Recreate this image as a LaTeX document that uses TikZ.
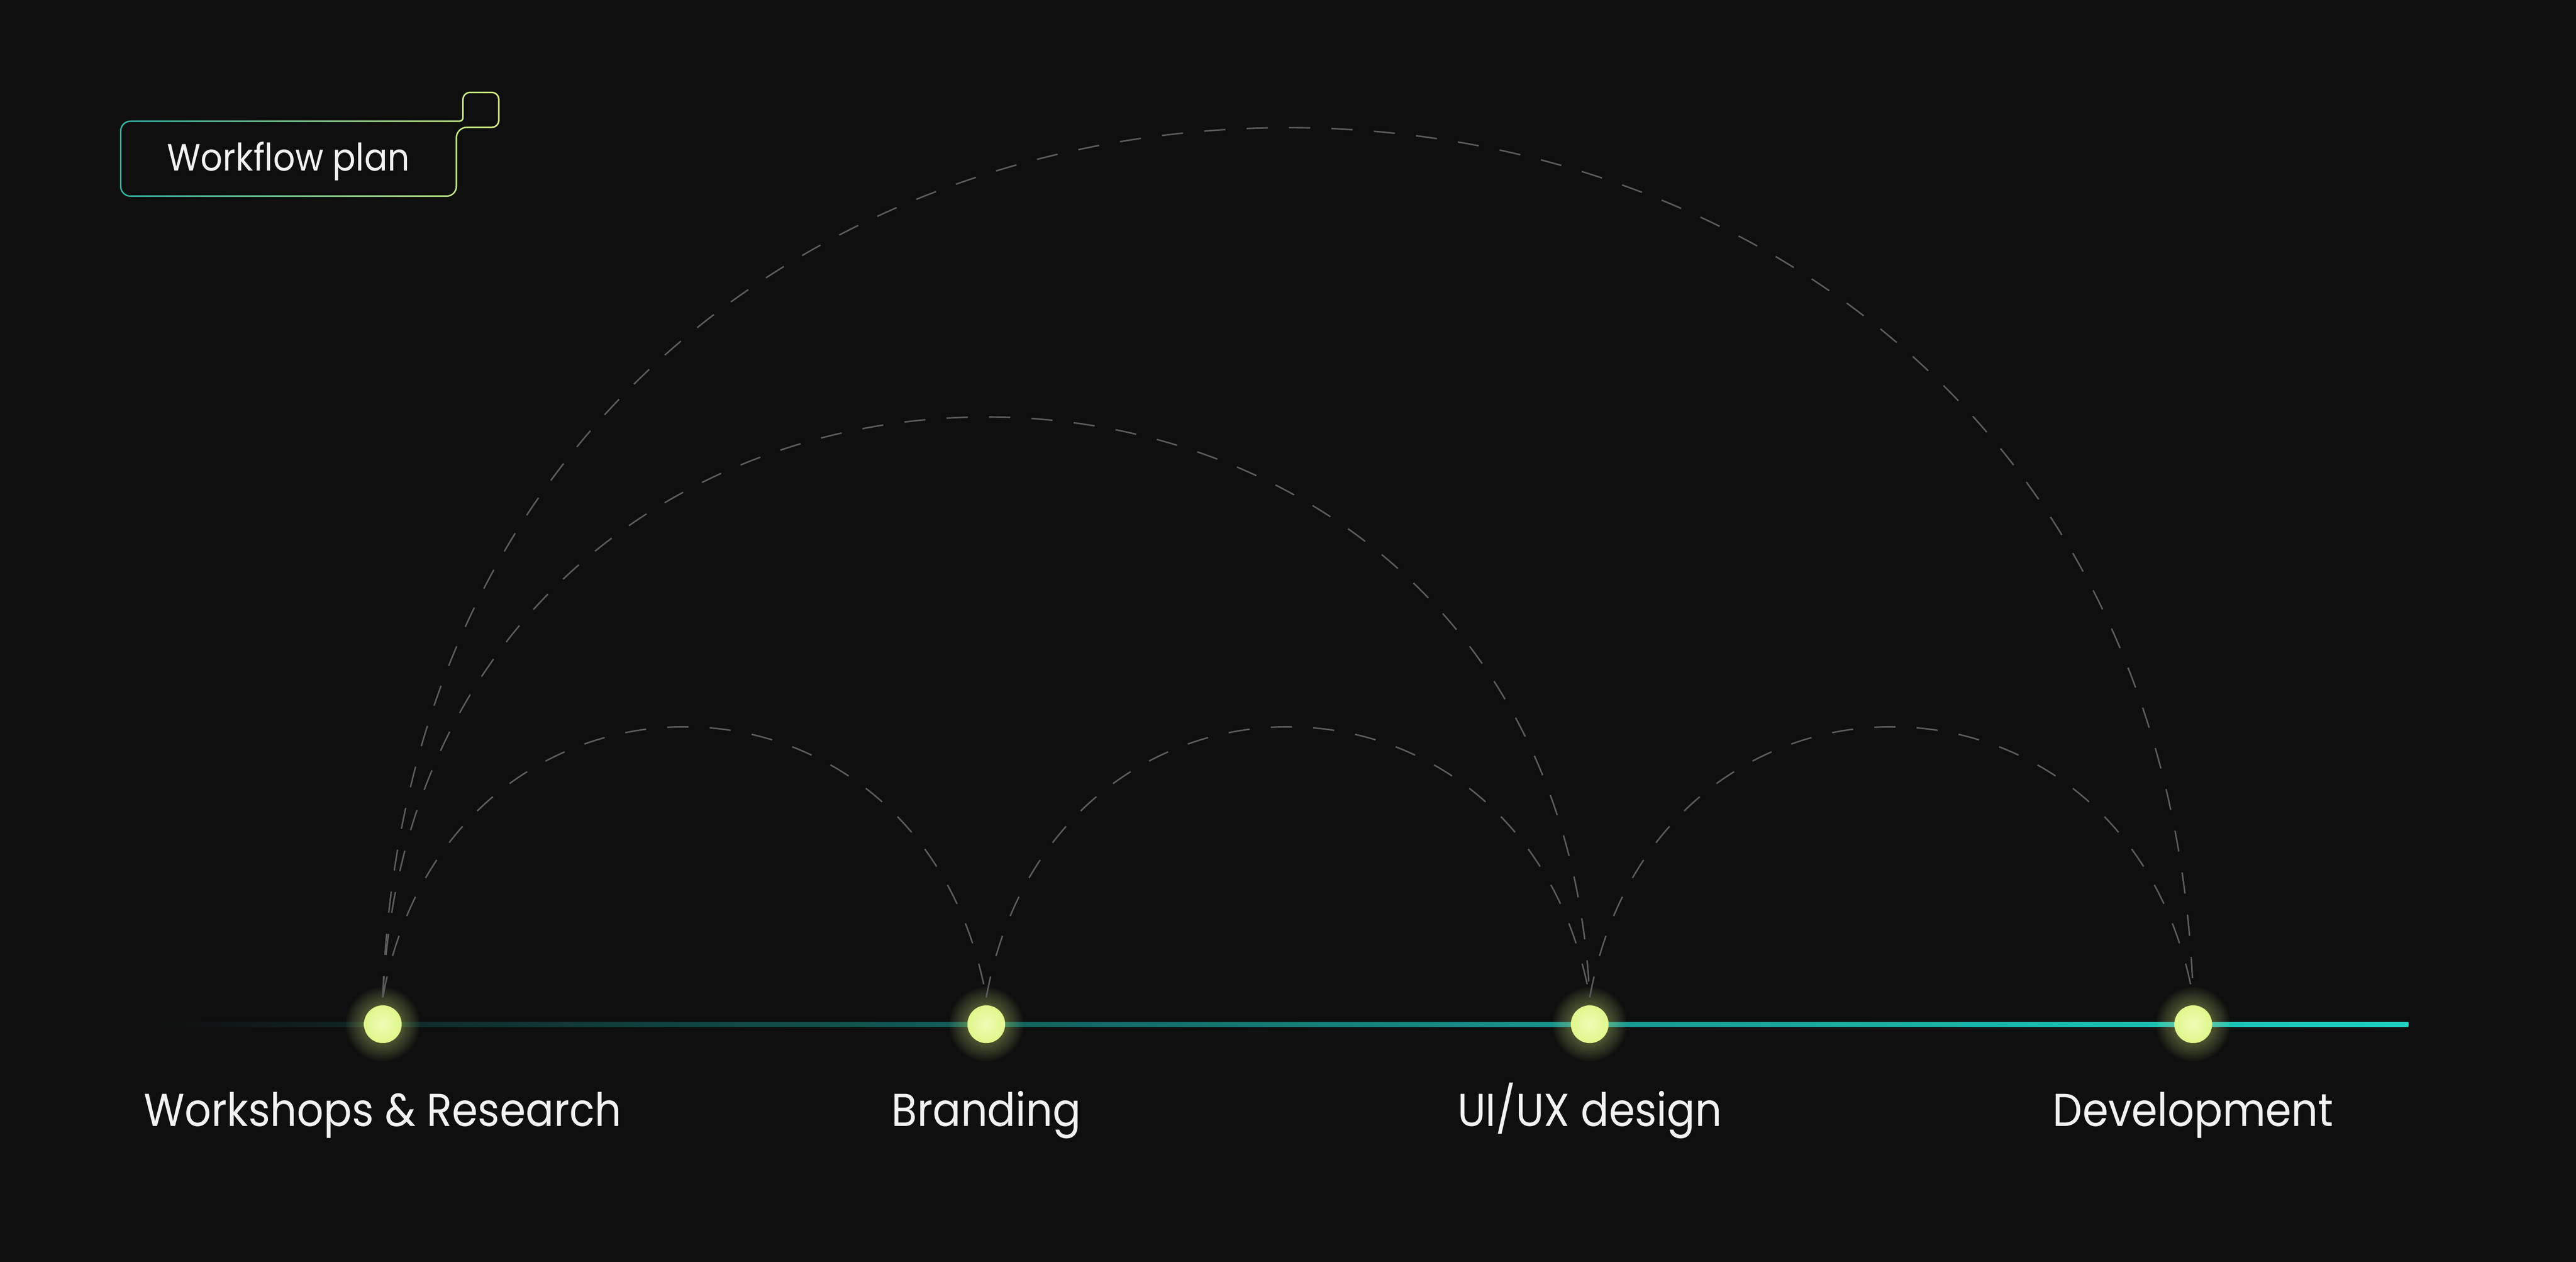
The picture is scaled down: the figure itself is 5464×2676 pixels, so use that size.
\documentclass[tikz,border=0pt]{standalone}
\usepackage{fontspec}
\usepackage{graphicx}
\usetikzlibrary{calc}
\setmainfont{Poppins}
\definecolor{bgc}{HTML}{0F0F0F}
\definecolor{dashc}{HTML}{5C5C5C}
\definecolor{dotc}{HTML}{DFF78A}
\definecolor{dotin}{HTML}{EEFCB8}
\definecolor{boxL}{HTML}{2BB8AA}
\definecolor{boxR}{HTML}{D9F47F}
\definecolor{txtc}{HTML}{F2F2F2}
\definecolor{tla}{HTML}{0F2826}
\definecolor{tlb}{HTML}{115A55}
\definecolor{tlc}{HTML}{179C94}
\definecolor{tld}{HTML}{21D3C5}
\pgfdeclarehorizontalshading{tline}{100bp}{color(0bp)=(bgc); color(25bp)=(bgc); color(30bp)=(tla); color(42bp)=(tlb); color(58bp)=(tlc); color(75bp)=(tld); color(100bp)=(tld)}
\newcommand\lblf{\fontsize{27.8pt}{32pt}\selectfont}
\newcommand\boxf{\fontsize{22.9pt}{26pt}\selectfont}
\newlength\mymeasw
% outline of the title box; #1 = inward offset
\newcommand\wfpath[1]{({256+(#1)},278) arc[start angle=180,end angle=270,radius={21-(#1)}]
 -- (975,{257+(#1)}) arc[start angle=90,end angle=0,radius={7+(#1)}]
 -- ({982+(#1)},211) arc[start angle=180,end angle=270,radius={15-(#1)}]
 -- (1043,{196+(#1)}) arc[start angle=270,end angle=360,radius={15-(#1)}]
 -- ({1058-(#1)},255) arc[start angle=0,end angle=90,radius={15-(#1)}]
 -- (990,{270-(#1)}) arc[start angle=270,end angle=180,radius={22+(#1)}]
 -- ({968-(#1)},395) arc[start angle=0,end angle=90,radius={21-(#1)}]
 -- (277,{416-(#1)}) arc[start angle=90,end angle=180,radius={21-(#1)}]
 -- cycle}
\tikzset{
 dotnode/.style={circle,minimum size=0.8cm,inner sep=0pt,outer sep=0.17cm,shade,inner color=dotin,outer color=dotc},
 glow/.style={fill=dotc,opacity=0.02},
 arcl/.style={draw=dashc,line width=0.9pt,dash pattern=on 12.8pt off 12.8pt},
 lbl/.style={text=txtc,inner sep=0pt,anchor=base},
}
\begin{document}
\settowidth\mymeasw{\lblf Workshops \& Research}
\pgfmathsetmacro\lsx{10.12cm/\mymeasw}
\settowidth\mymeasw{\boxf Workflow plan}
\pgfmathsetmacro\bsx{5.14cm/\mymeasw}
\begin{tikzpicture}[x=0.01cm,y=-0.01cm]
\fill[bgc] (0,0) rectangle (5464,2676);
\useasboundingbox (0,0) rectangle (5464,2676);
% title box
\shade[left color=boxL,right color=boxR] \wfpath{-1.6};
\fill[bgc] \wfpath{1.6};
\node[lbl] (title) at (612,362) {\boxf\scalebox{\bsx}[1]{Workflow plan}};
% timeline
\coordinate (ls) at (330,2167);
\coordinate (le) at (5108,2177);
\shade[shading=tline] (ls) rectangle (le);
% glows
\foreach \p in {812,2092,3372,4652}{
  \foreach \r in {41,43,...,79} \fill[glow] (\p,2172) circle[radius=\r];
}
% dots
\node[dotnode] (n1) at (812,2172) {};
\node[dotnode] (n2) at (2092,2172) {};
\node[dotnode] (n3) at (3372,2172) {};
\node[dotnode] (n4) at (4652,2172) {};
% arcs
\draw[arcl] (n1.north) .. controls ($(n1.north)+(140,-765)$) and ($(n2.north)+(-140,-765)$) .. (n2.north);
\draw[arcl] (n2.north) .. controls ($(n2.north)+(140,-765)$) and ($(n3.north)+(-140,-765)$) .. (n3.north);
\draw[arcl] (n3.north) .. controls ($(n3.north)+(140,-765)$) and ($(n4.north)+(-140,-765)$) .. (n4.north);
\draw[arcl] (n1.north) .. controls ($(n1.north)+(80,-1641)$) and ($(n3.north)+(-80,-1641)$) .. (n3.north);
\draw[arcl] (n1.north) .. controls ($(n1.north)+(80,-2459)$) and ($(n4.north)+(-80,-2459)$) .. (n4.north);
% labels
\node[lbl] (l1) at (812,2388) {\lblf\scalebox{\lsx}[1]{Workshops \& Research}};
\node[lbl] (l2) at (2092,2388) {\lblf\scalebox{\lsx}[1]{Branding}};
\node[lbl] (l3) at (3372,2388) {\lblf\scalebox{\lsx}[1]{UI/UX design}};
\node[lbl] (l4) at (4652,2388) {\lblf\scalebox{\lsx}[1]{Development}};
\end{tikzpicture}
\end{document}
